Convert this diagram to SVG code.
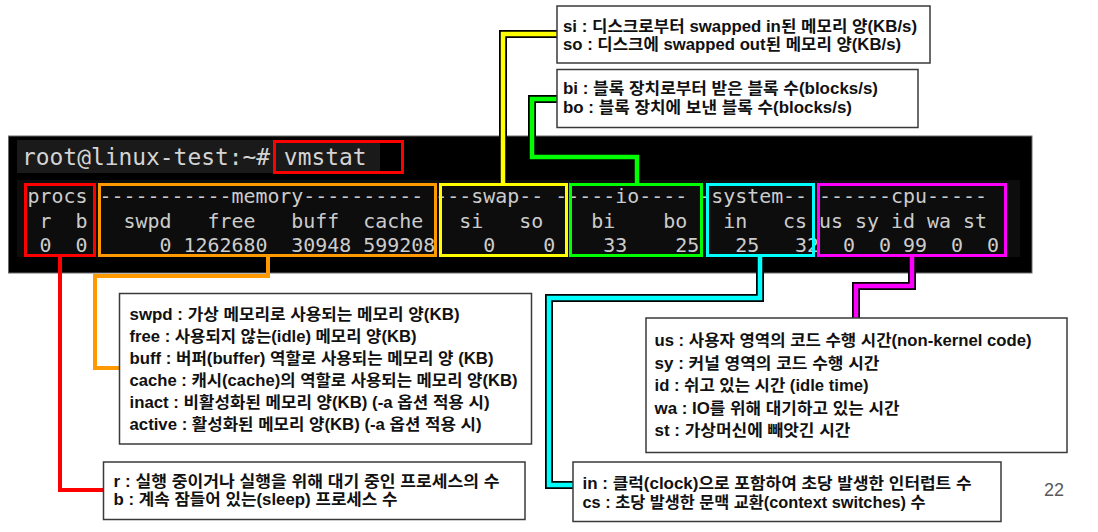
<svg xmlns="http://www.w3.org/2000/svg" width="1098" height="532" viewBox="0 0 1098 532">
<style>
.term{font-family:"DejaVu Sans Mono","Liberation Mono",monospace;fill:#cccccc;white-space:pre}
.row{font-size:19.93px}
.prompt{font-size:22.9px;fill:#d4d4d4}
.box{fill:#ffffff;stroke:#3a3a3a;stroke-width:1.5}
.lbl{font-family:"Liberation Sans","Noto Sans CJK KR",sans-serif;font-weight:bold;font-size:15.6px;fill:#111111}
.col{fill:none;stroke-width:3}
.halo{fill:none;stroke:#000000;stroke-width:8;stroke-linejoin:miter}
.wire{fill:none;stroke-width:4.5;stroke-linejoin:miter}
.plain{fill:none;stroke-width:4}
</style>

<g id="terminal">
  <rect x="8.5" y="136" width="1023.5" height="137" fill="#000000" stroke="#6a6a6a" stroke-width="1"/>
  <rect x="17" y="140" width="363" height="33" fill="#1a1a1a"/>
  <rect x="17" y="180" width="1003" height="77" fill="#0d0d0d"/>
  <text class="term prompt" x="22" y="165" xml:space="preserve">root@linux-test:~# vmstat</text>
  <text class="term row" x="27.5" y="203" xml:space="preserve">procs -----------memory---------- ---swap-- -----io---- -system-- ------cpu-----</text>
  <text class="term row" x="27.5" y="228" xml:space="preserve"> r  b   swpd   free   buff  cache   si   so    bi    bo   in   cs us sy id wa st</text>
  <text class="term row" x="27.5" y="252" xml:space="preserve"> 0  0      0 1262680  30948 599208    0    0    33    25   25   32  0  0 99  0  0</text>
  <rect class="col" x="274.5" y="141.5" width="128" height="31" stroke="#ff0000"/>
  <rect class="col" x="25.5" y="184.5" width="69" height="71" stroke="#ff0000"/>
  <rect class="col" x="99.5" y="184.5" width="336" height="71" stroke="#ff9900"/>
  <rect class="col" x="440.5" y="184.5" width="126" height="71" stroke="#ffff00"/>
  <rect class="col" x="570.5" y="184.5" width="131" height="71" stroke="#00ff00"/>
  <rect class="col" x="707.5" y="184.5" width="106" height="71" stroke="#00ffff"/>
  <rect class="col" x="818.5" y="184.5" width="187" height="71" stroke="#ff00ff"/>
</g>

<g id="connectors">
  <path class="plain" d="M60,257 V490 H104" stroke="#ff0000"/>
  <path class="plain" d="M268,257 V276 H95 V368 H120" stroke="#ff9900"/>
  <path class="halo" d="M503,183 V34 H557"/>
  <path class="wire" d="M503,183 V34 H557" stroke="#ffff00"/>
  <path class="halo" d="M637,183 V157 H532 V99 H557"/>
  <path class="wire" d="M637,183 V157 H532 V99 H557" stroke="#00ff00"/>
  <path class="halo" d="M760,257 V298 H549 V485 H573"/>
  <path class="wire" d="M760,257 V298 H549 V485 H573" stroke="#00ffff"/>
  <path class="halo" d="M912,257 V286 H856 V318"/>
  <path class="wire" d="M912,257 V286 H856 V318" stroke="#ff00ff"/>
</g>

<g id="swap-note">
  <rect class="box" x="557" y="6" width="373" height="57"/>
  <text class="lbl" x="563" y="31.5" textLength="354" lengthAdjust="spacingAndGlyphs">si : 디스크로부터 swapped in된 메모리 양(KB/s)</text>
  <text class="lbl" x="563" y="50" textLength="338" lengthAdjust="spacingAndGlyphs">so : 디스크에 swapped out된 메모리 양(KB/s)</text>
</g>

<g id="io-note">
  <rect class="box" x="557" y="69.5" width="361" height="58"/>
  <text class="lbl" x="563" y="94" textLength="315" lengthAdjust="spacingAndGlyphs">bi : 블록 장치로부터 받은 블록 수(blocks/s)</text>
  <text class="lbl" x="563" y="112.5" textLength="289" lengthAdjust="spacingAndGlyphs">bo : 블록 장치에 보낸 블록 수(blocks/s)</text>
</g>

<g id="memory-note">
  <rect class="box" x="119.5" y="293.5" width="412" height="150.5"/>
  <text class="lbl" x="129.5" y="319.5" textLength="330" lengthAdjust="spacingAndGlyphs">swpd : 가상 메모리로 사용되는 메모리 양(KB)</text>
  <text class="lbl" x="129.5" y="341.5" textLength="287" lengthAdjust="spacingAndGlyphs">free : 사용되지 않는(idle) 메모리 양(KB)</text>
  <text class="lbl" x="129.5" y="363.5" textLength="364" lengthAdjust="spacingAndGlyphs">buff : 버퍼(buffer) 역할로 사용되는 메모리 양 (KB)</text>
  <text class="lbl" x="129.5" y="385.5" textLength="388" lengthAdjust="spacingAndGlyphs">cache : 캐시(cache)의 역할로 사용되는 메모리 양(KB)</text>
  <text class="lbl" x="129.5" y="407.5" textLength="360" lengthAdjust="spacingAndGlyphs">inact : 비활성화된 메모리 양(KB) (-a 옵션 적용 시)</text>
  <text class="lbl" x="129.5" y="429.5" textLength="352" lengthAdjust="spacingAndGlyphs">active : 활성화된 메모리 양(KB) (-a 옵션 적용 시)</text>
</g>

<g id="cpu-note">
  <rect class="box" x="646" y="318" width="421" height="134.5"/>
  <text class="lbl" x="654.5" y="346" textLength="377" lengthAdjust="spacingAndGlyphs">us : 사용자 영역의 코드 수행 시간(non-kernel code)</text>
  <text class="lbl" x="654.5" y="368.5" textLength="225" lengthAdjust="spacingAndGlyphs">sy : 커널 영역의 코드 수행 시간</text>
  <text class="lbl" x="654.5" y="391" textLength="214" lengthAdjust="spacingAndGlyphs">id : 쉬고 있는 시간 (idle time)</text>
  <text class="lbl" x="654.5" y="413.5" textLength="245" lengthAdjust="spacingAndGlyphs">wa : IO를 위해 대기하고 있는 시간</text>
  <text class="lbl" x="654.5" y="436" textLength="196" lengthAdjust="spacingAndGlyphs">st : 가상머신에 빼앗긴 시간</text>
</g>

<g id="procs-note">
  <rect class="box" x="103.5" y="462" width="421.5" height="57.5"/>
  <text class="lbl" x="113.5" y="486.5" textLength="386" lengthAdjust="spacingAndGlyphs">r : 실행 중이거나 실행을 위해 대기 중인 프로세스의 수</text>
  <text class="lbl" x="113.5" y="505" textLength="284" lengthAdjust="spacingAndGlyphs">b : 계속 잠들어 있는(sleep) 프로세스 수</text>
</g>

<g id="system-note">
  <rect class="box" x="573" y="462" width="428" height="59.5"/>
  <text class="lbl" x="582.5" y="488.5" textLength="389" lengthAdjust="spacingAndGlyphs">in : 클럭(clock)으로 포함하여 초당 발생한 인터럽트 수</text>
  <text class="lbl" x="582.5" y="507.5" textLength="343" lengthAdjust="spacingAndGlyphs">cs : 초당 발생한 문맥 교환(context switches) 수</text>
</g>

<text x="1044" y="496" font-family="Liberation Sans, Arial, sans-serif" font-size="18" fill="#595959">22</text>
</svg>
